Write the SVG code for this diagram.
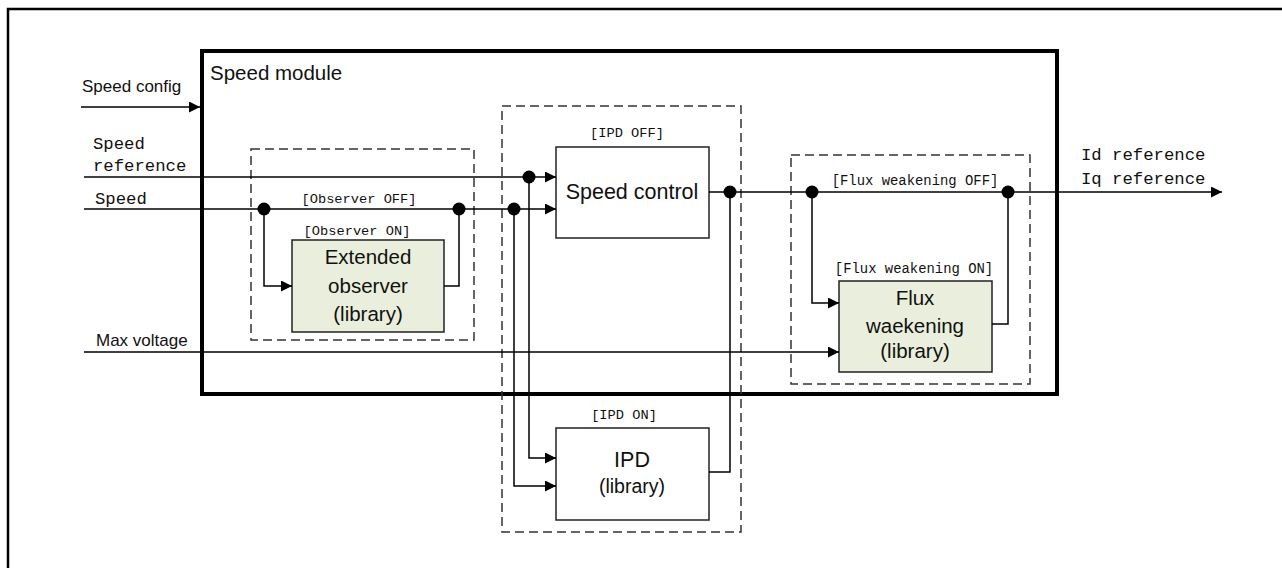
<svg xmlns="http://www.w3.org/2000/svg" width="1282" height="568" viewBox="0 0 1282 568">
<defs>
<marker id="arr" markerUnits="userSpaceOnUse" markerWidth="11" markerHeight="11" refX="11" refY="5.5" orient="auto">
<path d="M0,0 L11,5.5 L0,11 z" fill="#000"/>
</marker>
<style>
.ln{fill:none;stroke:#000;stroke-width:1.5}
.dash{fill:none;stroke:#333;stroke-width:1.5;stroke-dasharray:9,5}
.box{fill:#fff;stroke:#222;stroke-width:1.5}
.lib{fill:#e9efdc;stroke:#222;stroke-width:1.5}
.mono{font-family:"Liberation Mono","DejaVu Sans Mono",monospace;fill:#111}
.sans{font-family:"Liberation Sans","Noto Sans",sans-serif;fill:#111}
.dot{fill:#000}
</style>
</defs>
<rect width="1282" height="568" fill="#fff"/>
<!-- outer frame -->
<path d="M8,568 L8,9 L1282,9" fill="none" stroke="#000" stroke-width="2.5"/>

<g id="speed-module">
<rect x="202" y="51" width="855" height="343" fill="none" stroke="#000" stroke-width="4"/>
<text class="sans" x="210" y="80" font-size="20.5">Speed module</text>
</g>

<g id="observer-group">
<rect class="dash" x="251" y="149" width="223" height="191"/>
<text class="mono" x="359" y="203" font-size="13.7" text-anchor="middle">[Observer OFF]</text>
<text class="mono" x="357" y="235" font-size="13.7" text-anchor="middle">[Observer ON]</text>
</g>
<g id="extended-observer">
<rect class="lib" x="292" y="240" width="152" height="92"/>
<text class="sans" x="368" y="264" font-size="20.5" text-anchor="middle">Extended</text>
<text class="sans" x="368" y="293" font-size="20.5" text-anchor="middle">observer</text>
<text class="sans" x="368" y="321" font-size="20.5" text-anchor="middle">(library)</text>
</g>

<g id="ipd-group">
<rect class="dash" x="502" y="106" width="239" height="426"/>
<text class="mono" x="627" y="137" font-size="13.7" text-anchor="middle">[IPD OFF]</text>
<text class="mono" x="624" y="419" font-size="13.7" text-anchor="middle">[IPD ON]</text>
</g>
<g id="speed-control">
<rect class="box" x="556" y="147" width="153" height="91"/>
<text class="sans" x="632" y="199" font-size="21.5" text-anchor="middle">Speed control</text>
</g>
<g id="ipd">
<rect class="box" x="556" y="428" width="153" height="92"/>
<text class="sans" x="632" y="467" font-size="21.5" text-anchor="middle">IPD</text>
<text class="sans" x="632" y="493" font-size="19.5" text-anchor="middle">(library)</text>
</g>

<g id="flux-group">
<rect class="dash" x="791" y="155" width="239" height="229"/>
<text class="mono" x="915" y="185" font-size="13.9" text-anchor="middle">[Flux weakening OFF]</text>
<text class="mono" x="914" y="273" font-size="13.9" text-anchor="middle">[Flux weakening ON]</text>
</g>
<g id="flux-weakening">
<rect class="lib" x="839" y="281" width="153" height="91"/>
<text class="sans" x="915" y="305" font-size="20.5" text-anchor="middle">Flux</text>
<text class="sans" x="915" y="333" font-size="20.5" text-anchor="middle">waekening</text>
<text class="sans" x="915" y="358" font-size="20.5" text-anchor="middle">(library)</text>
</g>

<g id="labels">
<text class="sans" x="82" y="92" font-size="17">Speed config</text>
<text class="mono" x="93" y="149" font-size="17.3">Speed</text>
<text class="mono" x="93" y="171" font-size="17.3">reference</text>
<text class="mono" x="95" y="204" font-size="17.3">Speed</text>
<text class="sans" x="96" y="346" font-size="17">Max voltage</text>
<text class="mono" x="1081" y="160" font-size="17.3">Id reference</text>
<text class="mono" x="1081" y="184" font-size="17.3">Iq reference</text>
</g>

<g id="connectors">
<path class="ln" d="M81,107 L200,107" marker-end="url(#arr)"/>
<path class="ln" d="M84,177 L556,177" marker-end="url(#arr)"/>
<path class="ln" d="M84,209 L556,209" marker-end="url(#arr)"/>
<path class="ln" d="M264,209 L264,286 L292,286" marker-end="url(#arr)"/>
<path class="ln" d="M444,286 L459,286 L459,209"/>
<path class="ln" d="M529,177 L529,458 L556,458" marker-end="url(#arr)"/>
<path class="ln" d="M514,209 L514,486 L556,486" marker-end="url(#arr)"/>
<path class="ln" d="M709,192 L1222,192" marker-end="url(#arr)"/>
<path class="ln" d="M709,472 L730,472 L730,192"/>
<path class="ln" d="M812,192 L812,303 L839,303" marker-end="url(#arr)"/>
<path class="ln" d="M992,324 L1008,324 L1008,192"/>
<path class="ln" d="M84,352 L839,352" marker-end="url(#arr)"/>
<circle class="dot" cx="264" cy="209" r="6.5"/>
<circle class="dot" cx="459" cy="209" r="6.5"/>
<circle class="dot" cx="529" cy="177" r="6.5"/>
<circle class="dot" cx="514" cy="209" r="6.5"/>
<circle class="dot" cx="730" cy="192" r="6.5"/>
<circle class="dot" cx="812" cy="192" r="6.5"/>
<circle class="dot" cx="1008" cy="192" r="6.5"/>
</g>
</svg>
